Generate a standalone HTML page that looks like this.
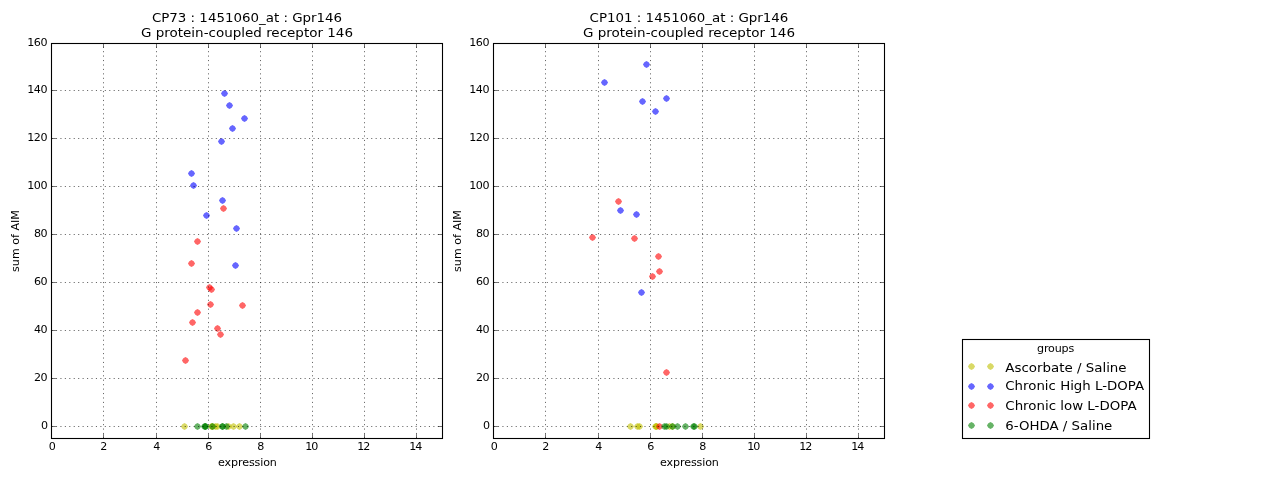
<!DOCTYPE html>
<html lang="en">
<head>
<meta charset="utf-8">
<title>Gpr146 expression vs sum of AIM</title>
<style>
html,body{margin:0;padding:0;background:#fff;}
body{width:1280px;height:480px;overflow:hidden;}
svg{display:block;font-family:"DejaVu Sans","Bitstream Vera Sans","Liberation Sans",sans-serif;fill:#000;}
</style>
</head>
<body>
<svg width="1280" height="480" viewBox="0 0 1280 480">
<rect width="1280" height="480" fill="#fff"/>
<g fill-opacity="0.6">
<path d="M184.5 422.95L186.7 424.3L188.05 426.5L186.7 428.7L184.5 430.05L182.3 428.7L180.95 426.5L182.3 424.3z" fill="#bfbf00"/>
<path d="M211.5 422.95L213.7 424.3L215.05 426.5L213.7 428.7L211.5 430.05L209.3 428.7L207.95 426.5L209.3 424.3z" fill="#bfbf00"/>
<path d="M212.5 422.95L214.7 424.3L216.05 426.5L214.7 428.7L212.5 430.05L210.3 428.7L208.95 426.5L210.3 424.3z" fill="#bfbf00"/>
<path d="M215.5 422.95L217.7 424.3L219.05 426.5L217.7 428.7L215.5 430.05L213.3 428.7L211.95 426.5L213.3 424.3z" fill="#bfbf00"/>
<path d="M217.5 422.95L219.7 424.3L221.05 426.5L219.7 428.7L217.5 430.05L215.3 428.7L213.95 426.5L215.3 424.3z" fill="#bfbf00"/>
<path d="M228.5 422.95L230.7 424.3L232.05 426.5L230.7 428.7L228.5 430.05L226.3 428.7L224.95 426.5L226.3 424.3z" fill="#bfbf00"/>
<path d="M233.5 422.95L235.7 424.3L237.05 426.5L235.7 428.7L233.5 430.05L231.3 428.7L229.95 426.5L231.3 424.3z" fill="#bfbf00"/>
<path d="M239.5 422.95L241.7 424.3L243.05 426.5L241.7 428.7L239.5 430.05L237.3 428.7L235.95 426.5L237.3 424.3z" fill="#bfbf00"/>
<path d="M224.5 89.95L226.7 91.3L228.05 93.5L226.7 95.7L224.5 97.05L222.3 95.7L220.95 93.5L222.3 91.3z" fill="#0000ff"/>
<path d="M229.5 101.95L231.7 103.3L233.05 105.5L231.7 107.7L229.5 109.05L227.3 107.7L225.95 105.5L227.3 103.3z" fill="#0000ff"/>
<path d="M244.5 114.95L246.7 116.3L248.05 118.5L246.7 120.7L244.5 122.05L242.3 120.7L240.95 118.5L242.3 116.3z" fill="#0000ff"/>
<path d="M232.5 124.95L234.7 126.3L236.05 128.5L234.7 130.7L232.5 132.05L230.3 130.7L228.95 128.5L230.3 126.3z" fill="#0000ff"/>
<path d="M221.5 137.95L223.7 139.3L225.05 141.5L223.7 143.7L221.5 145.05L219.3 143.7L217.95 141.5L219.3 139.3z" fill="#0000ff"/>
<path d="M191.5 169.95L193.7 171.3L195.05 173.5L193.7 175.7L191.5 177.05L189.3 175.7L187.95 173.5L189.3 171.3z" fill="#0000ff"/>
<path d="M193.5 181.95L195.7 183.3L197.05 185.5L195.7 187.7L193.5 189.05L191.3 187.7L189.95 185.5L191.3 183.3z" fill="#0000ff"/>
<path d="M222.5 196.95L224.7 198.3L226.05 200.5L224.7 202.7L222.5 204.05L220.3 202.7L218.95 200.5L220.3 198.3z" fill="#0000ff"/>
<path d="M206.5 211.95L208.7 213.3L210.05 215.5L208.7 217.7L206.5 219.05L204.3 217.7L202.95 215.5L204.3 213.3z" fill="#0000ff"/>
<path d="M236.5 224.95L238.7 226.3L240.05 228.5L238.7 230.7L236.5 232.05L234.3 230.7L232.95 228.5L234.3 226.3z" fill="#0000ff"/>
<path d="M235.5 261.95L237.7 263.3L239.05 265.5L237.7 267.7L235.5 269.05L233.3 267.7L231.95 265.5L233.3 263.3z" fill="#0000ff"/>
<path d="M223.5 204.95L225.7 206.3L227.05 208.5L225.7 210.7L223.5 212.05L221.3 210.7L219.95 208.5L221.3 206.3z" fill="#ff0000"/>
<path d="M197.5 237.95L199.7 239.3L201.05 241.5L199.7 243.7L197.5 245.05L195.3 243.7L193.95 241.5L195.3 239.3z" fill="#ff0000"/>
<path d="M191.5 259.95L193.7 261.3L195.05 263.5L193.7 265.7L191.5 267.05L189.3 265.7L187.95 263.5L189.3 261.3z" fill="#ff0000"/>
<path d="M209.5 283.95L211.7 285.3L213.05 287.5L211.7 289.7L209.5 291.05L207.3 289.7L205.95 287.5L207.3 285.3z" fill="#ff0000"/>
<path d="M211.5 285.95L213.7 287.3L215.05 289.5L213.7 291.7L211.5 293.05L209.3 291.7L207.95 289.5L209.3 287.3z" fill="#ff0000"/>
<path d="M210.5 300.95L212.7 302.3L214.05 304.5L212.7 306.7L210.5 308.05L208.3 306.7L206.95 304.5L208.3 302.3z" fill="#ff0000"/>
<path d="M242.5 301.95L244.7 303.3L246.05 305.5L244.7 307.7L242.5 309.05L240.3 307.7L238.95 305.5L240.3 303.3z" fill="#ff0000"/>
<path d="M197.5 308.95L199.7 310.3L201.05 312.5L199.7 314.7L197.5 316.05L195.3 314.7L193.95 312.5L195.3 310.3z" fill="#ff0000"/>
<path d="M192.5 318.95L194.7 320.3L196.05 322.5L194.7 324.7L192.5 326.05L190.3 324.7L188.95 322.5L190.3 320.3z" fill="#ff0000"/>
<path d="M217.5 324.95L219.7 326.3L221.05 328.5L219.7 330.7L217.5 332.05L215.3 330.7L213.95 328.5L215.3 326.3z" fill="#ff0000"/>
<path d="M220.5 330.95L222.7 332.3L224.05 334.5L222.7 336.7L220.5 338.05L218.3 336.7L216.95 334.5L218.3 332.3z" fill="#ff0000"/>
<path d="M185.5 356.95L187.7 358.3L189.05 360.5L187.7 362.7L185.5 364.05L183.3 362.7L181.95 360.5L183.3 358.3z" fill="#ff0000"/>
<path d="M197.5 422.95L199.7 424.3L201.05 426.5L199.7 428.7L197.5 430.05L195.3 428.7L193.95 426.5L195.3 424.3z" fill="#008000"/>
<path d="M204.5 422.95L206.7 424.3L208.05 426.5L206.7 428.7L204.5 430.05L202.3 428.7L200.95 426.5L202.3 424.3z" fill="#008000"/>
<path d="M205.5 422.95L207.7 424.3L209.05 426.5L207.7 428.7L205.5 430.05L203.3 428.7L201.95 426.5L203.3 424.3z" fill="#008000"/>
<path d="M205.5 422.95L207.7 424.3L209.05 426.5L207.7 428.7L205.5 430.05L203.3 428.7L201.95 426.5L203.3 424.3z" fill="#008000"/>
<path d="M212.5 422.95L214.7 424.3L216.05 426.5L214.7 428.7L212.5 430.05L210.3 428.7L208.95 426.5L210.3 424.3z" fill="#008000"/>
<path d="M222.5 422.95L224.7 424.3L226.05 426.5L224.7 428.7L222.5 430.05L220.3 428.7L218.95 426.5L220.3 424.3z" fill="#008000"/>
<path d="M222.5 422.95L224.7 424.3L226.05 426.5L224.7 428.7L222.5 430.05L220.3 428.7L218.95 426.5L220.3 424.3z" fill="#008000"/>
<path d="M226.5 422.95L228.7 424.3L230.05 426.5L228.7 428.7L226.5 430.05L224.3 428.7L222.95 426.5L224.3 424.3z" fill="#008000"/>
<path d="M245.5 422.95L247.7 424.3L249.05 426.5L247.7 428.7L245.5 430.05L243.3 428.7L241.95 426.5L243.3 424.3z" fill="#008000"/>
</g>
<g stroke="#000" stroke-width="0.6" stroke-dasharray="1.11 3.33" fill="none">
<path d="M103.5 438.5V43.5"/>
<path d="M156.5 438.5V43.5"/>
<path d="M208.5 438.5V43.5"/>
<path d="M260.5 438.5V43.5"/>
<path d="M312.5 438.5V43.5"/>
<path d="M364.5 438.5V43.5"/>
<path d="M416.5 438.5V43.5"/>
<path d="M51.5 426.5H442.5"/>
<path d="M51.5 378.5H442.5"/>
<path d="M51.5 330.5H442.5"/>
<path d="M51.5 282.5H442.5"/>
<path d="M51.5 234.5H442.5"/>
<path d="M51.5 186.5H442.5"/>
<path d="M51.5 138.5H442.5"/>
<path d="M51.5 90.5H442.5"/>
</g>
<g stroke="#000" stroke-width="0.56" fill="none">
<path d="M51.5 438.5v-4.4M51.5 43.5v4.4"/>
<path d="M103.5 438.5v-4.4M103.5 43.5v4.4"/>
<path d="M156.5 438.5v-4.4M156.5 43.5v4.4"/>
<path d="M208.5 438.5v-4.4M208.5 43.5v4.4"/>
<path d="M260.5 438.5v-4.4M260.5 43.5v4.4"/>
<path d="M312.5 438.5v-4.4M312.5 43.5v4.4"/>
<path d="M364.5 438.5v-4.4M364.5 43.5v4.4"/>
<path d="M416.5 438.5v-4.4M416.5 43.5v4.4"/>
<path d="M51.5 426.5h4.4M442.5 426.5h-4.4"/>
<path d="M51.5 378.5h4.4M442.5 378.5h-4.4"/>
<path d="M51.5 330.5h4.4M442.5 330.5h-4.4"/>
<path d="M51.5 282.5h4.4M442.5 282.5h-4.4"/>
<path d="M51.5 234.5h4.4M442.5 234.5h-4.4"/>
<path d="M51.5 186.5h4.4M442.5 186.5h-4.4"/>
<path d="M51.5 138.5h4.4M442.5 138.5h-4.4"/>
<path d="M51.5 90.5h4.4M442.5 90.5h-4.4"/>
<path d="M51.5 43.5h4.4M442.5 43.5h-4.4"/>
</g>
<rect x="51.5" y="43.5" width="391.0" height="395.0" fill="none" stroke="#000" stroke-width="1.1"/>
<g font-size="11.11" text-anchor="middle">
<text x="52.3" y="450.2">0</text>
<text x="103.8" y="450.2">2</text>
<text x="156.8" y="450.2">4</text>
<text x="208.8" y="450.2">6</text>
<text x="260.8" y="450.2">8</text>
<text x="311.8" y="450.2" textLength="13.3">10</text>
<text x="363.8" y="450.2" textLength="13.3">12</text>
<text x="415.8" y="450.2" textLength="13.3">14</text>
</g><g font-size="11.11" text-anchor="end">
<text x="48.1" y="428.8">0</text>
<text x="47.5" y="380.8" textLength="13.5">20</text>
<text x="47.5" y="332.8" textLength="13.5">40</text>
<text x="47.5" y="284.8" textLength="13.5">60</text>
<text x="47.5" y="236.8" textLength="13.5">80</text>
<text x="47.5" y="188.8" textLength="20.3">100</text>
<text x="47.5" y="140.8" textLength="20.3">120</text>
<text x="47.5" y="92.8" textLength="20.3">140</text>
<text x="47.5" y="45.8" textLength="20.3">160</text>
</g>
<text x="247.0" y="22" font-size="12.5" text-anchor="middle" textLength="190.2" lengthAdjust="spacingAndGlyphs">CP73 : 1451060_at : Gpr146</text>
<text x="247.0" y="36.8" font-size="12.5" text-anchor="middle" textLength="212" lengthAdjust="spacingAndGlyphs">G protein-coupled receptor 146</text>
<text x="247.5" y="465.5" font-size="11.11" text-anchor="middle" textLength="58.8">expression</text>
<text transform="translate(19.3 241) rotate(-90)" font-size="11.11" text-anchor="middle">sum of AIM</text>
<g fill-opacity="0.6">
<path d="M630.5 422.95L632.7 424.3L634.05 426.5L632.7 428.7L630.5 430.05L628.3 428.7L626.95 426.5L628.3 424.3z" fill="#bfbf00"/>
<path d="M637.5 422.95L639.7 424.3L641.05 426.5L639.7 428.7L637.5 430.05L635.3 428.7L633.95 426.5L635.3 424.3z" fill="#bfbf00"/>
<path d="M639.5 422.95L641.7 424.3L643.05 426.5L641.7 428.7L639.5 430.05L637.3 428.7L635.95 426.5L637.3 424.3z" fill="#bfbf00"/>
<path d="M655.5 422.95L657.7 424.3L659.05 426.5L657.7 428.7L655.5 430.05L653.3 428.7L651.95 426.5L653.3 424.3z" fill="#bfbf00"/>
<path d="M656.5 422.95L658.7 424.3L660.05 426.5L658.7 428.7L656.5 430.05L654.3 428.7L652.95 426.5L654.3 424.3z" fill="#bfbf00"/>
<path d="M656.5 422.95L658.7 424.3L660.05 426.5L658.7 428.7L656.5 430.05L654.3 428.7L652.95 426.5L654.3 424.3z" fill="#bfbf00"/>
<path d="M669.5 422.95L671.7 424.3L673.05 426.5L671.7 428.7L669.5 430.05L667.3 428.7L665.95 426.5L667.3 424.3z" fill="#bfbf00"/>
<path d="M672.5 422.95L674.7 424.3L676.05 426.5L674.7 428.7L672.5 430.05L670.3 428.7L668.95 426.5L670.3 424.3z" fill="#bfbf00"/>
<path d="M700.5 422.95L702.7 424.3L704.05 426.5L702.7 428.7L700.5 430.05L698.3 428.7L696.95 426.5L698.3 424.3z" fill="#bfbf00"/>
<path d="M646.5 60.95L648.7 62.3L650.05 64.5L648.7 66.7L646.5 68.05L644.3 66.7L642.95 64.5L644.3 62.3z" fill="#0000ff"/>
<path d="M604.5 78.95L606.7 80.3L608.05 82.5L606.7 84.7L604.5 86.05L602.3 84.7L600.95 82.5L602.3 80.3z" fill="#0000ff"/>
<path d="M642.5 97.95L644.7 99.3L646.05 101.5L644.7 103.7L642.5 105.05L640.3 103.7L638.95 101.5L640.3 99.3z" fill="#0000ff"/>
<path d="M666.5 94.95L668.7 96.3L670.05 98.5L668.7 100.7L666.5 102.05L664.3 100.7L662.95 98.5L664.3 96.3z" fill="#0000ff"/>
<path d="M655.5 107.95L657.7 109.3L659.05 111.5L657.7 113.7L655.5 115.05L653.3 113.7L651.95 111.5L653.3 109.3z" fill="#0000ff"/>
<path d="M620.5 206.95L622.7 208.3L624.05 210.5L622.7 212.7L620.5 214.05L618.3 212.7L616.95 210.5L618.3 208.3z" fill="#0000ff"/>
<path d="M636.5 210.95L638.7 212.3L640.05 214.5L638.7 216.7L636.5 218.05L634.3 216.7L632.95 214.5L634.3 212.3z" fill="#0000ff"/>
<path d="M641.5 288.95L643.7 290.3L645.05 292.5L643.7 294.7L641.5 296.05L639.3 294.7L637.95 292.5L639.3 290.3z" fill="#0000ff"/>
<path d="M618.5 197.95L620.7 199.3L622.05 201.5L620.7 203.7L618.5 205.05L616.3 203.7L614.95 201.5L616.3 199.3z" fill="#ff0000"/>
<path d="M592.5 233.95L594.7 235.3L596.05 237.5L594.7 239.7L592.5 241.05L590.3 239.7L588.95 237.5L590.3 235.3z" fill="#ff0000"/>
<path d="M634.5 234.95L636.7 236.3L638.05 238.5L636.7 240.7L634.5 242.05L632.3 240.7L630.95 238.5L632.3 236.3z" fill="#ff0000"/>
<path d="M658.5 252.95L660.7 254.3L662.05 256.5L660.7 258.7L658.5 260.05L656.3 258.7L654.95 256.5L656.3 254.3z" fill="#ff0000"/>
<path d="M659.5 267.95L661.7 269.3L663.05 271.5L661.7 273.7L659.5 275.05L657.3 273.7L655.95 271.5L657.3 269.3z" fill="#ff0000"/>
<path d="M652.5 272.95L654.7 274.3L656.05 276.5L654.7 278.7L652.5 280.05L650.3 278.7L648.95 276.5L650.3 274.3z" fill="#ff0000"/>
<path d="M666.5 368.95L668.7 370.3L670.05 372.5L668.7 374.7L666.5 376.05L664.3 374.7L662.95 372.5L664.3 370.3z" fill="#ff0000"/>
<path d="M659.5 422.95L661.7 424.3L663.05 426.5L661.7 428.7L659.5 430.05L657.3 428.7L655.95 426.5L657.3 424.3z" fill="#ff0000"/>
<path d="M664.5 422.95L666.7 424.3L668.05 426.5L666.7 428.7L664.5 430.05L662.3 428.7L660.95 426.5L662.3 424.3z" fill="#008000"/>
<path d="M666.5 422.95L668.7 424.3L670.05 426.5L668.7 428.7L666.5 430.05L664.3 428.7L662.95 426.5L664.3 424.3z" fill="#008000"/>
<path d="M672.5 422.95L674.7 424.3L676.05 426.5L674.7 428.7L672.5 430.05L670.3 428.7L668.95 426.5L670.3 424.3z" fill="#008000"/>
<path d="M677.5 422.95L679.7 424.3L681.05 426.5L679.7 428.7L677.5 430.05L675.3 428.7L673.95 426.5L675.3 424.3z" fill="#008000"/>
<path d="M685.5 422.95L687.7 424.3L689.05 426.5L687.7 428.7L685.5 430.05L683.3 428.7L681.95 426.5L683.3 424.3z" fill="#008000"/>
<path d="M693.5 422.95L695.7 424.3L697.05 426.5L695.7 428.7L693.5 430.05L691.3 428.7L689.95 426.5L691.3 424.3z" fill="#008000"/>
<path d="M694.5 422.95L696.7 424.3L698.05 426.5L696.7 428.7L694.5 430.05L692.3 428.7L690.95 426.5L692.3 424.3z" fill="#008000"/>
</g>
<g stroke="#000" stroke-width="0.6" stroke-dasharray="1.11 3.33" fill="none">
<path d="M545.5 438.5V43.5"/>
<path d="M598.5 438.5V43.5"/>
<path d="M650.5 438.5V43.5"/>
<path d="M702.5 438.5V43.5"/>
<path d="M754.5 438.5V43.5"/>
<path d="M806.5 438.5V43.5"/>
<path d="M858.5 438.5V43.5"/>
<path d="M493.5 426.5H884.5"/>
<path d="M493.5 378.5H884.5"/>
<path d="M493.5 330.5H884.5"/>
<path d="M493.5 282.5H884.5"/>
<path d="M493.5 234.5H884.5"/>
<path d="M493.5 186.5H884.5"/>
<path d="M493.5 138.5H884.5"/>
<path d="M493.5 90.5H884.5"/>
</g>
<g stroke="#000" stroke-width="0.56" fill="none">
<path d="M493.5 438.5v-4.4M493.5 43.5v4.4"/>
<path d="M545.5 438.5v-4.4M545.5 43.5v4.4"/>
<path d="M598.5 438.5v-4.4M598.5 43.5v4.4"/>
<path d="M650.5 438.5v-4.4M650.5 43.5v4.4"/>
<path d="M702.5 438.5v-4.4M702.5 43.5v4.4"/>
<path d="M754.5 438.5v-4.4M754.5 43.5v4.4"/>
<path d="M806.5 438.5v-4.4M806.5 43.5v4.4"/>
<path d="M858.5 438.5v-4.4M858.5 43.5v4.4"/>
<path d="M493.5 426.5h4.4M884.5 426.5h-4.4"/>
<path d="M493.5 378.5h4.4M884.5 378.5h-4.4"/>
<path d="M493.5 330.5h4.4M884.5 330.5h-4.4"/>
<path d="M493.5 282.5h4.4M884.5 282.5h-4.4"/>
<path d="M493.5 234.5h4.4M884.5 234.5h-4.4"/>
<path d="M493.5 186.5h4.4M884.5 186.5h-4.4"/>
<path d="M493.5 138.5h4.4M884.5 138.5h-4.4"/>
<path d="M493.5 90.5h4.4M884.5 90.5h-4.4"/>
<path d="M493.5 43.5h4.4M884.5 43.5h-4.4"/>
</g>
<rect x="493.5" y="43.5" width="391.0" height="395.0" fill="none" stroke="#000" stroke-width="1.1"/>
<g font-size="11.11" text-anchor="middle">
<text x="494.3" y="450.2">0</text>
<text x="545.8" y="450.2">2</text>
<text x="598.8" y="450.2">4</text>
<text x="650.8" y="450.2">6</text>
<text x="702.8" y="450.2">8</text>
<text x="753.8" y="450.2" textLength="13.3">10</text>
<text x="805.8" y="450.2" textLength="13.3">12</text>
<text x="857.8" y="450.2" textLength="13.3">14</text>
</g><g font-size="11.11" text-anchor="end">
<text x="490.1" y="428.8">0</text>
<text x="489.5" y="380.8" textLength="13.5">20</text>
<text x="489.5" y="332.8" textLength="13.5">40</text>
<text x="489.5" y="284.8" textLength="13.5">60</text>
<text x="489.5" y="236.8" textLength="13.5">80</text>
<text x="489.5" y="188.8" textLength="20.3">100</text>
<text x="489.5" y="140.8" textLength="20.3">120</text>
<text x="489.5" y="92.8" textLength="20.3">140</text>
<text x="489.5" y="45.8" textLength="20.3">160</text>
</g>
<text x="689.0" y="22" font-size="12.5" text-anchor="middle" textLength="198.8" lengthAdjust="spacingAndGlyphs">CP101 : 1451060_at : Gpr146</text>
<text x="689.0" y="36.8" font-size="12.5" text-anchor="middle" textLength="212" lengthAdjust="spacingAndGlyphs">G protein-coupled receptor 146</text>
<text x="689.5" y="465.5" font-size="11.11" text-anchor="middle" textLength="58.8">expression</text>
<text transform="translate(461.3 241) rotate(-90)" font-size="11.11" text-anchor="middle">sum of AIM</text>
<rect x="962.5" y="339.5" width="187" height="99" fill="#fff" stroke="#000" stroke-width="1.1"/>
<text x="1055.6" y="351.8" font-size="11.11" text-anchor="middle" textLength="37.2">groups</text>
<g fill="#bfbf00" fill-opacity="0.6"><path d="M971.5 362.95L973.7 364.3L975.05 366.5L973.7 368.7L971.5 370.05L969.3 368.7L967.95 366.5L969.3 364.3z"/><path d="M990.5 362.95L992.7 364.3L994.05 366.5L992.7 368.7L990.5 370.05L988.3 368.7L986.95 366.5L988.3 364.3z"/></g>
<text x="1005.3" y="371.6" font-size="12.5" textLength="121.3" lengthAdjust="spacingAndGlyphs">Ascorbate / Saline</text>
<g fill="#0000ff" fill-opacity="0.6"><path d="M971.5 382.95L973.7 384.3L975.05 386.5L973.7 388.7L971.5 390.05L969.3 388.7L967.95 386.5L969.3 384.3z"/><path d="M990.5 382.95L992.7 384.3L994.05 386.5L992.7 388.7L990.5 390.05L988.3 388.7L986.95 386.5L988.3 384.3z"/></g>
<text x="1005.3" y="389.8" font-size="12.5" textLength="138.8" lengthAdjust="spacingAndGlyphs">Chronic High L-DOPA</text>
<g fill="#ff0000" fill-opacity="0.6"><path d="M971.5 401.95L973.7 403.3L975.05 405.5L973.7 407.7L971.5 409.05L969.3 407.7L967.95 405.5L969.3 403.3z"/><path d="M990.5 401.95L992.7 403.3L994.05 405.5L992.7 407.7L990.5 409.05L988.3 407.7L986.95 405.5L988.3 403.3z"/></g>
<text x="1005.3" y="409.6" font-size="12.5" textLength="131.3" lengthAdjust="spacingAndGlyphs">Chronic low L-DOPA</text>
<g fill="#008000" fill-opacity="0.6"><path d="M971.5 421.95L973.7 423.3L975.05 425.5L973.7 427.7L971.5 429.05L969.3 427.7L967.95 425.5L969.3 423.3z"/><path d="M990.5 421.95L992.7 423.3L994.05 425.5L992.7 427.7L990.5 429.05L988.3 427.7L986.95 425.5L988.3 423.3z"/></g>
<text x="1005.3" y="430.1" font-size="12.5" textLength="107.0" lengthAdjust="spacingAndGlyphs">6-OHDA / Saline</text>
</svg>
</body>
</html>
